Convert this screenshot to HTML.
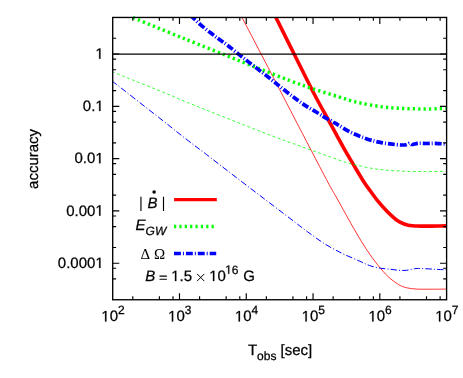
<!DOCTYPE html>
<html><head><meta charset="utf-8"><style>
html,body{margin:0;padding:0;background:#fff;}
svg{display:block;will-change:transform}
text{text-rendering:geometricPrecision}
.t{font-family:"Liberation Sans",sans-serif;font-size:15px;fill:#000;stroke:#000;stroke-width:0.25px}
.i{font-style:italic}
.s{font-family:"Liberation Serif",serif;font-size:15px;fill:#000}
</style></head><body>
<svg width="463" height="378" viewBox="0 0 463 378">
<rect width="463" height="378" fill="#fff"/>
<defs><clipPath id="c2"><rect x="112.7" y="14.45" width="334.40000000000003" height="282.3"/></clipPath><clipPath id="c"><rect x="112.7" y="17.45" width="333.90000000000003" height="282.3"/></clipPath></defs>
<g clip-path="url(#c)" fill="none">
<path d="M273.8 13.0 C274.13 13.70 272.42 10.37 275.8 17.2 C279.18 24.03 287.70 41.20 294.1 54.0 C300.50 66.80 308.37 82.78 314.2 94.0 C320.03 105.22 325.38 114.50 329.1 121.3 C332.82 128.10 333.92 130.08 336.5 134.8 C339.08 139.52 341.80 144.67 344.6 149.6 C347.40 154.53 350.10 159.03 353.3 164.4 C356.50 169.77 361.02 177.45 363.8 181.8 C366.58 186.15 367.72 187.37 370.0 190.5 C372.28 193.63 374.63 197.10 377.5 200.6 C380.37 204.10 384.45 208.63 387.2 211.5 C389.95 214.37 391.87 216.02 394.0 217.8 C396.13 219.58 397.63 220.97 400.0 222.2 C402.37 223.43 404.98 224.55 408.2 225.2 C411.42 225.85 415.33 225.95 419.3 226.1 C423.27 226.25 427.38 226.13 432.0 226.1 C436.62 226.07 444.50 225.93 447.0 225.9" stroke="#ff0000" stroke-width="3.6" stroke-linejoin="round"/>
<path d="M239.7 13.0 C242.48 18.33 249.73 32.22 256.4 45.0 C263.07 57.78 273.20 77.20 279.7 89.7 C286.20 102.20 287.60 105.02 295.4 120.0 C303.20 134.98 319.42 166.27 326.5 179.6 C333.58 192.93 334.67 194.18 337.9 200.0 C341.13 205.82 342.82 209.00 345.9 214.5 C348.98 220.00 352.88 227.05 356.4 233.0 C359.92 238.95 363.47 244.90 367.0 250.2 C370.53 255.50 374.07 260.38 377.6 264.8 C381.13 269.22 384.68 273.40 388.2 276.7 C391.72 280.00 395.62 282.75 398.7 284.6 C401.78 286.45 403.62 287.05 406.7 287.8 C409.78 288.55 413.32 288.87 417.2 289.1 C421.08 289.33 425.03 289.20 430.0 289.2 C434.97 289.20 444.17 289.12 447.0 289.1" stroke="#ff0000" stroke-width="0.8" stroke-linejoin="round"/>
<path d="M110.0 70.5 C112.07 71.38 112.57 71.78 122.4 75.8 C132.23 79.82 158.15 90.15 169.0 94.6 C179.85 99.05 171.97 96.25 187.5 102.5 C203.03 108.75 243.45 124.83 262.2 132.1 C280.95 139.37 287.37 141.50 300.0 146.1 C312.63 150.70 330.00 156.88 338.0 159.7 C346.00 162.52 344.18 161.93 348.0 163.0 C351.82 164.07 356.58 165.15 360.9 166.1 C365.22 167.05 369.58 168.02 373.9 168.7 C378.22 169.38 382.48 169.82 386.8 170.2 C391.12 170.58 395.47 170.78 399.8 171.0 C404.13 171.22 408.48 171.42 412.8 171.5 C417.12 171.58 420.00 171.53 425.7 171.5 C431.40 171.47 443.45 171.33 447.0 171.3" stroke="#00ff00" stroke-width="0.8" stroke-dasharray="2.85 2.55" stroke-dashoffset="3.0"/>
</g><g clip-path="url(#c2)" fill="none"><path d="M133.0 17.6 C141.37 21.07 165.67 31.09 183.2 38.2 C200.73 45.31 224.82 54.95 238.2 60.3 C251.58 65.65 254.87 66.90 263.5 70.3 C272.13 73.70 281.85 77.65 290.0 80.7 C298.15 83.75 304.30 85.92 312.4 88.6 C320.50 91.28 332.23 94.80 338.6 96.8 C344.97 98.80 346.88 99.55 350.6 100.6 C354.32 101.65 357.02 102.27 360.9 103.1 C364.78 103.93 369.58 104.88 373.9 105.6 C378.22 106.32 382.48 106.95 386.8 107.4 C391.12 107.85 395.47 108.07 399.8 108.3 C404.13 108.53 408.48 108.68 412.8 108.8 C417.12 108.92 421.38 109.03 425.7 109.0 C430.02 108.97 435.15 108.72 438.7 108.6 C442.25 108.48 445.62 108.35 447.0 108.3" stroke="#00ff00" stroke-width="3.5" stroke-dasharray="2.25 3.13"/></g><g clip-path="url(#c)" fill="none">
<path d="M188.0 13.0 C188.73 13.70 190.33 15.27 192.4 17.2 C194.47 19.13 197.27 21.92 200.4 24.6 C203.53 27.28 208.02 30.80 211.2 33.3 C214.38 35.80 216.80 37.62 219.5 39.6 C222.20 41.58 224.13 42.70 227.4 45.2 C230.67 47.70 235.65 51.87 239.1 54.6 C242.55 57.33 245.08 59.27 248.1 61.6 C251.12 63.93 254.17 66.27 257.2 68.6 C260.23 70.93 263.28 73.25 266.3 75.6 C269.32 77.95 273.02 80.87 275.3 82.7 C277.58 84.53 277.05 84.25 280.0 86.6 C282.95 88.95 288.68 93.58 293.0 96.8 C297.32 100.02 301.58 103.08 305.9 105.9 C310.22 108.72 315.72 111.75 318.9 113.7 C322.08 115.65 322.85 116.35 325.0 117.6 C327.15 118.85 329.63 119.98 331.8 121.2 C333.97 122.42 334.82 123.03 338.0 124.9 C341.18 126.77 346.58 130.25 350.9 132.4 C355.22 134.55 359.88 136.32 363.9 137.8 C367.92 139.28 371.72 140.43 375.0 141.3 C378.28 142.17 380.72 142.52 383.6 143.0 C386.48 143.48 389.42 143.87 392.3 144.2 C395.18 144.53 398.60 144.92 400.9 145.0 C403.20 145.08 404.67 144.98 406.1 144.7 C407.53 144.42 408.50 143.33 409.5 143.3 C410.50 143.27 410.65 144.50 412.1 144.5 C413.55 144.50 415.75 143.47 418.2 143.3 C420.65 143.13 423.93 143.50 426.8 143.5 C429.67 143.50 432.03 143.18 435.4 143.3 C438.77 143.42 445.07 144.05 447.0 144.2" stroke="#0000ff" stroke-width="3.7" stroke-dasharray="6.9 2 1 2" stroke-dashoffset="8.6"/>
<path d="M110.0 79.4 C110.59 79.85 105.05 75.47 113.5 82.1 C122.05 88.73 148.93 109.72 161.0 119.2 C173.07 128.68 178.40 133.10 186.0 139.0 C193.60 144.90 199.28 149.00 206.6 154.6 C213.92 160.20 221.08 165.83 229.9 172.6 C238.72 179.37 249.48 187.57 259.5 195.2 C269.52 202.83 282.03 212.33 290.0 218.4 C297.97 224.47 301.55 227.38 307.3 231.6 C313.05 235.82 318.75 240.10 324.5 243.7 C330.25 247.30 336.03 250.33 341.8 253.2 C347.57 256.07 354.45 258.83 359.1 260.9 C363.75 262.97 366.18 264.38 369.7 265.6 C373.22 266.82 376.68 267.58 380.2 268.2 C383.72 268.82 387.72 268.95 390.8 269.3 C393.88 269.65 396.05 270.13 398.7 270.3 C401.35 270.47 404.05 270.57 406.7 270.3 C409.35 270.03 412.18 269.00 414.6 268.7 C417.02 268.40 417.68 268.40 421.2 268.5 C424.72 268.60 431.40 269.08 435.7 269.3 C440.00 269.52 445.12 269.72 447.0 269.8" stroke="#0000ff" stroke-width="1" stroke-dasharray="6.3 2.2 1 2.2" stroke-dashoffset="6.2"/>
<path d="M112.7 54.10 H446.6" stroke="#000" stroke-width="1.3"/>
</g>
<path d="M132.80 299.75 v-3.4 M132.80 17.45 v3.4 M159.38 299.75 v-3.4 M159.38 17.45 v3.4 M173.01 299.75 v-3.4 M173.01 17.45 v3.4 M179.48 299.75 v-6.6 M179.48 17.45 v6.6 M199.58 299.75 v-3.4 M199.58 17.45 v3.4 M226.16 299.75 v-3.4 M226.16 17.45 v3.4 M239.79 299.75 v-3.4 M239.79 17.45 v3.4 M246.26 299.75 v-6.6 M246.26 17.45 v6.6 M266.36 299.75 v-3.4 M266.36 17.45 v3.4 M292.94 299.75 v-3.4 M292.94 17.45 v3.4 M306.57 299.75 v-3.4 M306.57 17.45 v3.4 M313.04 299.75 v-6.6 M313.04 17.45 v6.6 M333.14 299.75 v-3.4 M333.14 17.45 v3.4 M359.72 299.75 v-3.4 M359.72 17.45 v3.4 M373.35 299.75 v-3.4 M373.35 17.45 v3.4 M379.82 299.75 v-6.6 M379.82 17.45 v6.6 M399.92 299.75 v-3.4 M399.92 17.45 v3.4 M426.50 299.75 v-3.4 M426.50 17.45 v3.4 M440.13 299.75 v-3.4 M440.13 17.45 v3.4 M112.7 278.94 h3.4 M446.6 278.94 h-3.4 M112.7 268.26 h3.4 M446.6 268.26 h-3.4 M112.7 263.20 h6.6 M446.6 263.20 h-6.6 M112.7 247.45 h3.4 M446.6 247.45 h-3.4 M112.7 226.64 h3.4 M446.6 226.64 h-3.4 M112.7 215.97 h3.4 M446.6 215.97 h-3.4 M112.7 210.90 h6.6 M446.6 210.90 h-6.6 M112.7 195.15 h3.4 M446.6 195.15 h-3.4 M112.7 174.34 h3.4 M446.6 174.34 h-3.4 M112.7 163.67 h3.4 M446.6 163.67 h-3.4 M112.7 158.60 h6.6 M446.6 158.60 h-6.6 M112.7 142.86 h3.4 M446.6 142.86 h-3.4 M112.7 122.05 h3.4 M446.6 122.05 h-3.4 M112.7 111.37 h3.4 M446.6 111.37 h-3.4 M112.7 106.30 h6.6 M446.6 106.30 h-6.6 M112.7 90.56 h3.4 M446.6 90.56 h-3.4 M112.7 69.75 h3.4 M446.6 69.75 h-3.4 M112.7 59.07 h3.4 M446.6 59.07 h-3.4 M112.7 54.00 h6.6 M446.6 54.00 h-6.6 M112.7 38.26 h3.4 M446.6 38.26 h-3.4" stroke="#000" stroke-width="1.15" fill="none"/>
<rect x="112.7" y="17.45" width="333.90000000000003" height="282.3" fill="none" stroke="#000" stroke-width="1.35"/>
<path transform="translate(101.30,321.40) scale(0.007324,-0.007324)" d="M515 0V1237L197 1010V1180L530 1409H696V0Z" fill="#000" stroke="#000" stroke-width="34.1"/><text x="109.64" y="321.40" class="t" style="font-size:15px">0</text><text x="117.88" y="313.70" class="t" style="font-size:12px">2</text>
<path transform="translate(168.08,321.40) scale(0.007324,-0.007324)" d="M515 0V1237L197 1010V1180L530 1409H696V0Z" fill="#000" stroke="#000" stroke-width="34.1"/><text x="176.42" y="321.40" class="t" style="font-size:15px">0</text><text x="184.66" y="313.70" class="t" style="font-size:12px">3</text>
<path transform="translate(234.86,321.40) scale(0.007324,-0.007324)" d="M515 0V1237L197 1010V1180L530 1409H696V0Z" fill="#000" stroke="#000" stroke-width="34.1"/><text x="243.20" y="321.40" class="t" style="font-size:15px">0</text><text x="251.44" y="313.70" class="t" style="font-size:12px">4</text>
<path transform="translate(301.64,321.40) scale(0.007324,-0.007324)" d="M515 0V1237L197 1010V1180L530 1409H696V0Z" fill="#000" stroke="#000" stroke-width="34.1"/><text x="309.98" y="321.40" class="t" style="font-size:15px">0</text><text x="318.22" y="313.70" class="t" style="font-size:12px">5</text>
<path transform="translate(368.42,321.40) scale(0.007324,-0.007324)" d="M515 0V1237L197 1010V1180L530 1409H696V0Z" fill="#000" stroke="#000" stroke-width="34.1"/><text x="376.76" y="321.40" class="t" style="font-size:15px">0</text><text x="385.00" y="313.70" class="t" style="font-size:12px">6</text>
<path transform="translate(435.20,321.40) scale(0.007324,-0.007324)" d="M515 0V1237L197 1010V1180L530 1409H696V0Z" fill="#000" stroke="#000" stroke-width="34.1"/><text x="443.54" y="321.40" class="t" style="font-size:15px">0</text><text x="451.78" y="313.70" class="t" style="font-size:12px">7</text>
<path transform="translate(95.36,58.75) scale(0.007324,-0.007324)" d="M515 0V1237L197 1010V1180L530 1409H696V0Z" fill="#000" stroke="#000" stroke-width="34.1"/>
<text x="82.85" y="111.05" class="t" style="font-size:15px">0.</text><path transform="translate(95.36,111.05) scale(0.007324,-0.007324)" d="M515 0V1237L197 1010V1180L530 1409H696V0Z" fill="#000" stroke="#000" stroke-width="34.1"/>
<text x="74.51" y="163.35" class="t" style="font-size:15px">0.0</text><path transform="translate(95.36,163.35) scale(0.007324,-0.007324)" d="M515 0V1237L197 1010V1180L530 1409H696V0Z" fill="#000" stroke="#000" stroke-width="34.1"/>
<text x="66.17" y="215.65" class="t" style="font-size:15px">0.00</text><path transform="translate(95.36,215.65) scale(0.007324,-0.007324)" d="M515 0V1237L197 1010V1180L530 1409H696V0Z" fill="#000" stroke="#000" stroke-width="34.1"/>
<text x="57.83" y="267.95" class="t" style="font-size:15px">0.000</text><path transform="translate(95.36,267.95) scale(0.007324,-0.007324)" d="M515 0V1237L197 1010V1180L530 1409H696V0Z" fill="#000" stroke="#000" stroke-width="34.1"/>

<text transform="translate(37.8,158.9) rotate(-90)" text-anchor="middle" class="t">accuracy</text>
<text x="247.9" y="355.45" class="t">T<tspan dy="4.9" font-size="12">obs</tspan><tspan dy="-4.9"> [sec]</tspan></text>
<!-- legend -->
<path d="M140.95 196.7 V210.9 M163.5 196.7 V210.9" stroke="#000" stroke-width="1.15" fill="none"/>
<text x="147.6" y="207.8" class="t i">B</text>
<circle cx="154.1" cy="192" r="1.75" fill="#000"/>
<path d="M174.1 199.6 H216.8" stroke="#ff0000" stroke-width="3.3"/>
<text x="135.6" y="230.2" class="t i">E<tspan dy="4.9" font-size="12">GW</tspan></text>
<path d="M174 226.5 H213.9" stroke="#00ff00" stroke-width="3.3" stroke-dasharray="2.2 3.17"/>
<text x="140.6" y="258.6" class="s">Δ</text>
<text x="154" y="258.6" class="s">Ω</text>
<path d="M174 253.5 H216.2" stroke="#0000ff" stroke-width="3.3" stroke-dasharray="6.9 2 1 2"/>
<text x="145.3" y="281.1" class="t i">B</text>
<path d="M159.5 276.1 H166.9 M159.5 279.15 H166.9" stroke="#000" stroke-width="1.05" fill="none"/>
<path transform="translate(171.20,281.10) scale(0.007324,-0.007324)" d="M515 0V1237L197 1010V1180L530 1409H696V0Z" fill="#000" stroke="#000" stroke-width="34.1"/><text x="179.54" y="281.10" class="t" style="font-size:15px">.5</text>
<path d="M197.1 273.9 L204.3 281.1 M204.3 273.9 L197.1 281.1" stroke="#000" stroke-width="1" fill="none"/>
<path transform="translate(209.20,281.10) scale(0.007324,-0.007324)" d="M515 0V1237L197 1010V1180L530 1409H696V0Z" fill="#000" stroke="#000" stroke-width="34.1"/><text x="217.54" y="281.10" class="t" style="font-size:15px">0</text><path transform="translate(225.18,273.70) scale(0.005859,-0.005859)" d="M515 0V1237L197 1010V1180L530 1409H696V0Z" fill="#000" stroke="#000" stroke-width="42.7"/><text x="231.85" y="273.70" class="t" style="font-size:12px">6</text>
<text x="243.2" y="281.1" class="t">G</text>
</svg>
</body></html>
